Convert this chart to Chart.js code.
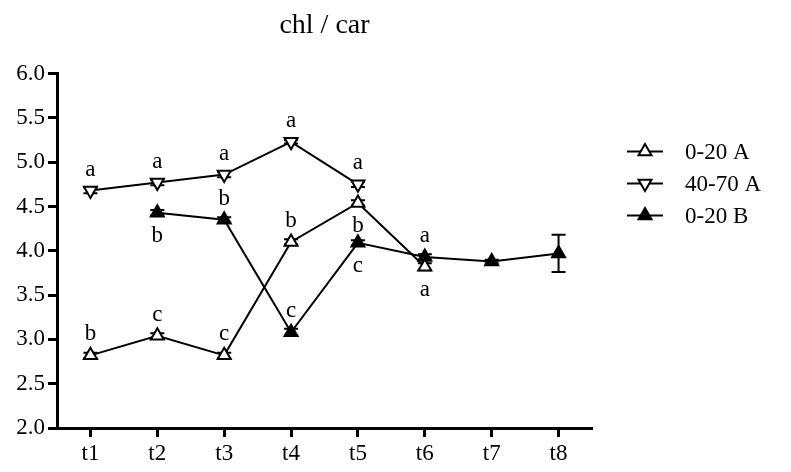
<!DOCTYPE html>
<html>
<head>
<meta charset="utf-8">
<script src="https://cdn.jsdelivr.net/npm/chart.js@4/dist/chart.umd.min.js"></script>
<style>
  html,body{margin:0;padding:0;background:#fff}
  #wrap{width:791px;height:472px}
</style>
</head>
<body>
<div id="wrap"><canvas id="chart"></canvas></div>
<script>
// data
const times = ['t1','t2','t3','t4','t5','t6','t7','t8'];
const seriesNames = ['0-20 A','40-70 A','0-20 B'];

const a020 = [2.82, 3.04, 2.82, 4.10, 4.54, 3.82, null, null];
const a4070 = [4.68, 4.77, 4.86, 5.23, 4.75, null, null, null];
const b020 = [null, 4.43, 4.35, 3.08, 4.09, 3.93, 3.88, 3.97];

const a020Err = [0.03, 0.03, 0.03, 0.03, 0.03, 0.04, null, null];
const a4070Err = [0.03, 0.03, 0.03, 0.02, 0.03, null, null, null];
const b020Err = [null, 0.03, 0.03, 0.04, 0.03, 0.03, 0.02, 0.21];

// significance letters, and whether they sit above or below the point
const a020Letters = ['b','c','c','b','b','a',null,null];
const a020Where = ['up','up','up','up','down','down',null,null];
const a4070Letters = ['a','a','a','a','a',null,null,null];
const a4070Where = ['up','up','up','up','up',null,null,null];
const b020Letters = [null,'b','b','c','c','a',null,null];
const b020Where = [null,'down','up','up','down','up',null,null];

const yMin = 2.0, yMax = 6.0, yStep = 0.5;
const titleText = 'chl / car';

const FONT = "'Liberation Serif', 'Times New Roman', serif";

function ds(label, data, err, letters, where, style, rot, fill){
  return {
    label, data, err, letters, where,
    borderColor:'#000', borderWidth:2, tension:0,
    pointStyle:style, rotation:rot, pointRadius:7.5, pointHoverRadius:7.5,
    pointBackgroundColor:fill, pointBorderColor:'#000', pointBorderWidth:2
  };
}

const errorBars = {
  id:'errorBars',
  beforeDatasetsDraw(chart){
    const ctx = chart.ctx, y = chart.scales.y;
    chart.data.datasets.forEach((d,i)=>{
      const meta = chart.getDatasetMeta(i);
      meta.data.forEach((pt,j)=>{
        const v = d.data[j], e = d.err[j];
        if(v==null || e==null) return;
        const top = y.getPixelForValue(v+e), bot = y.getPixelForValue(v-e);
        ctx.save();
        ctx.strokeStyle='#000'; ctx.lineWidth=2;
        ctx.beginPath();
        ctx.moveTo(pt.x, top); ctx.lineTo(pt.x, bot);
        ctx.moveTo(pt.x-7, top); ctx.lineTo(pt.x+7, top);
        ctx.moveTo(pt.x-7, bot); ctx.lineTo(pt.x+7, bot);
        ctx.stroke();
        ctx.restore();
      });
    });
  }
};

const letterMarks = {
  id:'letterMarks',
  afterDatasetsDraw(chart){
    const ctx = chart.ctx;
    ctx.save();
    ctx.fillStyle='#000';
    ctx.font = '23px ' + FONT;
    ctx.textAlign='center'; ctx.textBaseline='middle';
    chart.data.datasets.forEach((d,i)=>{
      const meta = chart.getDatasetMeta(i);
      meta.data.forEach((pt,j)=>{
        const t = d.letters[j];
        if(!t || d.data[j]==null) return;
        const dy = d.where[j]==='up' ? -21 : 23;
        ctx.fillText(t, pt.x, pt.y + dy);
      });
    });
    ctx.restore();
  }
};

const sideLegend = {
  id:'sideLegend',
  afterDraw(chart){
    const ctx = chart.ctx, a = chart.chartArea;
    ctx.save();
    chart.data.datasets.forEach((d,i)=>{
      const yy = a.top + 78 + i*32;
      const x0 = a.right + 35, x1 = a.right + 71, xm = (x0+x1)/2;
      ctx.strokeStyle='#000'; ctx.lineWidth=2;
      ctx.beginPath(); ctx.moveTo(x0,yy); ctx.lineTo(x1,yy); ctx.stroke();
      ctx.fillStyle = d.pointBackgroundColor;
      Chart.helpers.drawPoint(ctx, {pointStyle:d.pointStyle, rotation:d.rotation, radius:7.5, borderWidth:2}, xm, yy);
      ctx.fillStyle='#000';
      ctx.font = '23px ' + FONT;
      ctx.textAlign='left'; ctx.textBaseline='middle';
      ctx.fillText(d.label, a.right + 93, yy + 1);
    });
    ctx.restore();
  }
};

new Chart(document.getElementById('chart'), {
  type:'line',
  data:{
    labels: times,
    datasets:[
      ds(seriesNames[0], a020, a020Err, a020Letters, a020Where, 'triangle', 0, '#fff'),
      ds(seriesNames[1], a4070, a4070Err, a4070Letters, a4070Where, 'triangle', 180, '#fff'),
      ds(seriesNames[2], b020, b020Err, b020Letters, b020Where, 'triangle', 0, '#000')
    ]
  },
  options:{
    responsive:true, maintainAspectRatio:false, animation:false,
    events:[],
    layout:{ padding:{ top:0, right:199, bottom:0, left:0 } },
    plugins:{
      legend:{ display:false },
      tooltip:{ enabled:false },
      title:{
        display:true, text:titleText, color:'#000', fullSize:false,
        font:{ family:FONT, size:28, weight:'normal' },
        padding:{ top:9, bottom:31 }
      }
    },
    scales:{
      x:{
        type:'category', offset:true,
        grid:{ display:true, drawOnChartArea:false, drawTicks:true, tickLength:9, tickWidth:3, tickColor:'#000', offset:false },
        border:{ display:true, color:'#000', width:3 },
        ticks:{ color:'#000', font:{ family:FONT, size:23 }, padding:3, maxRotation:0 },
        afterFit(s){ s.height = 44; }
      },
      y:{
        min:yMin, max:yMax,
        grid:{ display:true, drawOnChartArea:false, drawTicks:true, tickLength:9, tickWidth:3, tickColor:'#000' },
        border:{ display:true, color:'#000', width:3 },
        ticks:{ stepSize:yStep, color:'#000', font:{ family:FONT, size:23 }, padding:3,
          callback:v=>Number(v).toFixed(1) },
        afterFit(s){ s.width = 57; }
      }
    }
  },
  plugins:[errorBars, letterMarks, sideLegend]
});
</script>
</body>
</html>
